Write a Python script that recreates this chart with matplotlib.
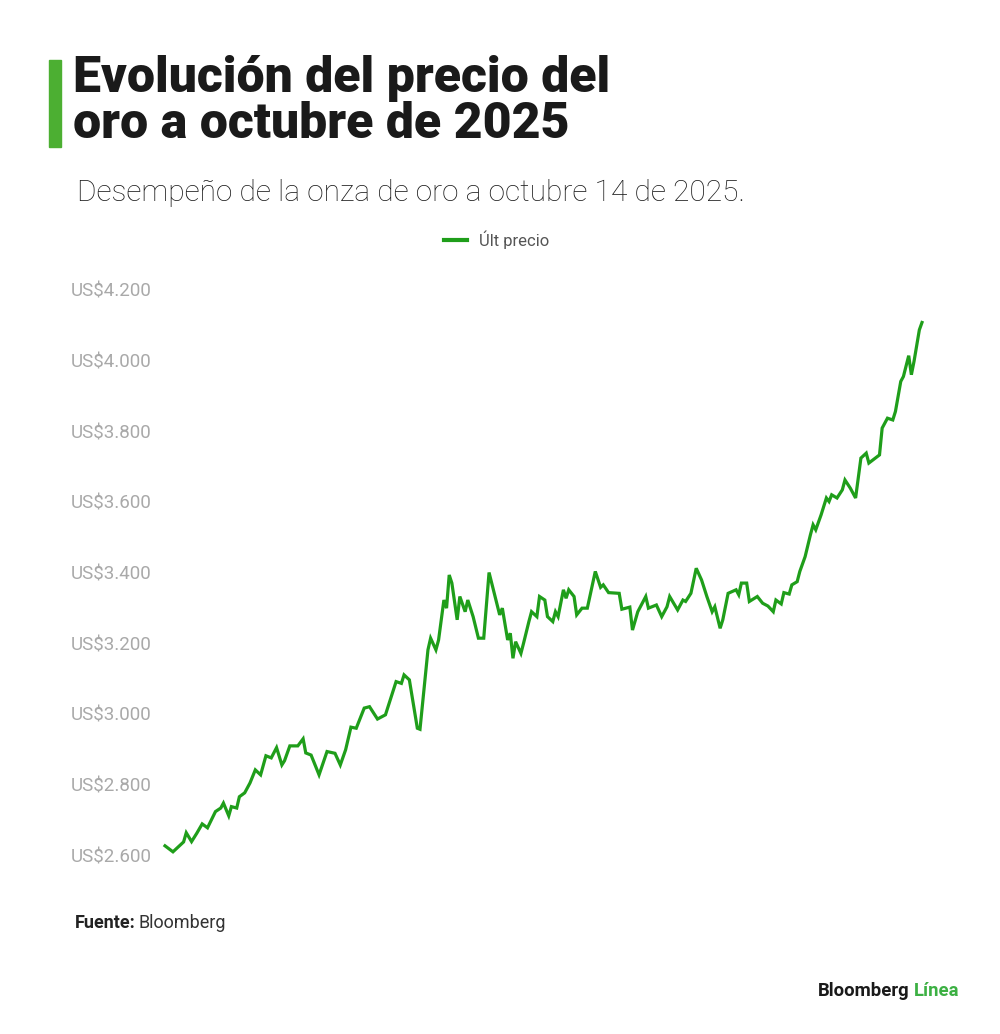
"""
Evolución del precio del oro a octubre de 2025 (Bloomberg Línea style)
"""

import numpy as np
import pandas as pd
import matplotlib
matplotlib.use("Agg")
import matplotlib.pyplot as plt
from matplotlib.patches import Rectangle

# ── Data ────────────────────────────────────────────────────────
start_date = "2025-01-02"
day_offsets = [
    0, 3, 5, 7, 8, 10, 12, 14, 16, 19, 21, 22, 24, 25, 27, 28, 30, 32,
    34, 36, 38, 40, 42, 44, 45, 47, 50, 52, 53, 55, 58, 61, 64, 66, 68,
    70, 72, 75, 77, 80, 83, 87, 89, 90, 92, 95, 96, 99, 100, 102, 103,
    105, 106, 107, 108, 110, 111, 113, 114, 116, 118, 120, 122, 126, 127,
    129, 130, 131, 132, 134, 135, 137, 138, 140, 141, 143, 144, 146, 147,
    148, 150, 151, 152, 154, 155, 157, 159, 162, 164, 165, 167, 171, 172,
    175, 176, 178, 181, 182, 185, 187, 189, 190, 193, 195, 196, 198, 200,
    202, 204, 206, 207, 209, 210, 212, 215, 216, 217, 219, 220, 223, 225,
    227, 229, 230, 232, 233, 235, 236, 238, 239, 241, 243, 244, 245, 247,
    249, 250, 251, 253, 255, 256, 258, 260, 262, 264, 265, 269, 270, 272,
    274, 275, 277, 278, 280, 281, 282, 284, 285,
]
prices = [
    2626, 2609, 2623, 2637, 2663, 2638, 2662, 2688, 2677, 2723, 2733,
    2747, 2711, 2737, 2733, 2765, 2776, 2804, 2841, 2827, 2881, 2875,
    2904, 2855, 2867, 2909, 2909, 2929, 2889, 2883, 2827, 2893, 2888,
    2855, 2898, 2962, 2959, 3016, 3020, 2985, 2997, 3091, 3086, 3110,
    3096, 2959, 2956, 3181, 3214, 3181, 3209, 3322, 3299, 3393, 3370,
    3266, 3332, 3289, 3322, 3275, 3214, 3214, 3400, 3280, 3299, 3209,
    3228, 3157, 3204, 3171, 3200, 3261, 3289, 3275, 3332, 3322, 3275,
    3261, 3289, 3275, 3351, 3327, 3351, 3332, 3280, 3299, 3299, 3403,
    3358, 3365, 3343, 3341, 3296, 3302, 3237, 3289, 3332, 3299, 3308,
    3275, 3303, 3332, 3294, 3322, 3318, 3341, 3412, 3379, 3332, 3289,
    3303, 3242, 3266, 3341, 3351, 3337, 3370, 3370, 3318, 3332, 3313,
    3305, 3289, 3322, 3311, 3343, 3339, 3365, 3374, 3403, 3445, 3507,
    3535, 3521, 3563, 3611, 3601, 3620, 3611, 3634, 3662, 3639, 3611,
    3724, 3738, 3710, 3733, 3809, 3837, 3832, 3856, 3941, 3955, 4014,
    3960, 3998, 4087, 4108,
]
y_ticks = [2600, 2800, 3000, 3200, 3400, 3600, 3800, 4000, 4200]
y_tick_labels = [f"US${v:,}".replace(",", ".") for v in y_ticks]

title = "Evolución del precio del\noro a octubre de 2025"
subtitle = "Desempeño de la onza de oro a octubre 14 de 2025."
legend_label = "Últ precio"

LINE_GREEN = "#1f9e1a"
BAR_GREEN = "#4caf32"
FONT = ["Roboto", "DejaVu Sans"]

dates = pd.Timestamp(start_date) + pd.to_timedelta(day_offsets, unit="D")
gold = pd.Series(prices, index=dates)

W, H = 1000, 1034
fig = plt.figure(figsize=(W / 100, H / 100), dpi=100)
fig.patch.set_facecolor("white")


def px(x, y):
    """pixel coords (top-left origin) -> figure fraction"""
    return x / W, 1 - y / H


# ── Plot area ───────────────────────────────────────────────────
ax = fig.add_axes([165 / W, 1 - 855 / H, (922 - 165) / W, (855 - 290) / H])
ax.plot(gold.index, gold.values, color=LINE_GREEN, lw=2.3,
        solid_joinstyle="miter", clip_on=False)
ax.set_xlim(gold.index[0], gold.index[-1])
ax.set_ylim(2600, 4200)
ax.set_yticks(y_ticks)
ax.set_yticklabels(y_tick_labels)
ax.set_xticks([])
for s in ax.spines.values():
    s.set_visible(False)
ax.tick_params(axis="y", length=0, pad=68, labelsize=13.5,
               labelcolor="#a9a9a9")
for lbl in ax.get_yticklabels():
    lbl.set_horizontalalignment("left")
    lbl.set_family(FONT)

# ── Header ──────────────────────────────────────────────────────
fig.patches.append(Rectangle(px(49, 147), 11.5 / W, 87 / H,
                             transform=fig.transFigure,
                             color=BAR_GREEN, zorder=3))
fig.text(*px(73, 55), title, family=FONT, fontweight="heavy",
         fontsize=36, color="#1a1a1a", va="top", ha="left",
         linespacing=0.98)
fig.text(*px(77, 193), subtitle, family=FONT, fontweight="light",
         fontsize=21.5, color="#1a1a1a", va="center", ha="left")

# legend
fig.lines.append(plt.Line2D([444 / W, 467 / W], [1 - 240 / H] * 2,
                            transform=fig.transFigure,
                            color=LINE_GREEN, lw=3))
fig.text(*px(479, 240), legend_label, family=FONT, fontsize=12,
         color="#555555", va="center", ha="left")

# ── Footer ──────────────────────────────────────────────────────
t = fig.text(*px(75, 923), "Fuente:", family=FONT, fontweight="bold",
             fontsize=13, color="#222222", va="center", ha="left")
fig.canvas.draw()
bb = t.get_window_extent()
fig.text((bb.x1 + 3) / W, 1 - 923 / H, "Bloomberg", family=FONT,
         fontsize=13, color="#333333", va="center", ha="left")

b = fig.text(*px(818, 991), "Bloomberg", family=FONT, fontweight="bold",
             fontsize=13.3, color="#1a1a1a", va="center", ha="left")
fig.canvas.draw()
bb = b.get_window_extent()
fig.text((bb.x1 + 4) / W, 1 - 991 / H, "Línea", family=FONT,
         fontweight="bold", fontsize=13.3, color="#3cb043",
         va="center", ha="left")

plt.savefig("out.png", dpi=100, facecolor="white")
plt.close()
